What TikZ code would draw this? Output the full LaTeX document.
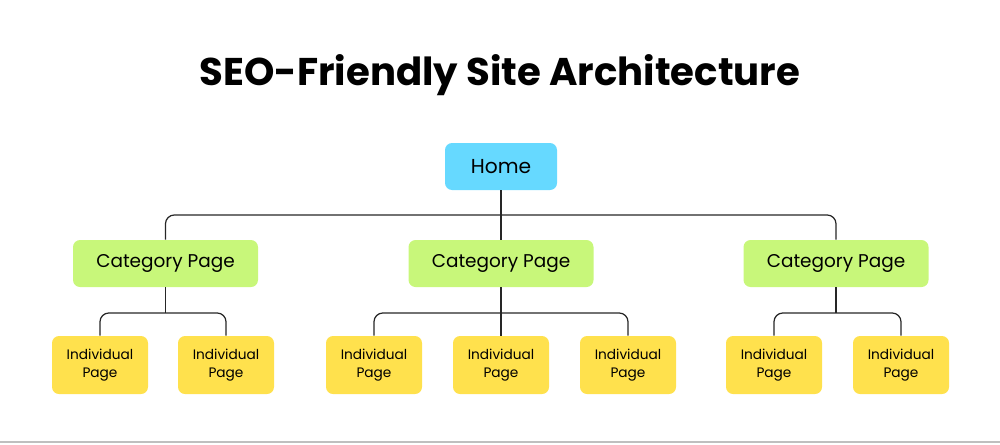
\documentclass[tikz,border=0pt]{standalone}
\usepackage{fontspec}
\setmainfont{Poppins}
\begin{document}
\begin{tikzpicture}[x=0.02cm,y=-0.02cm,
  box/.style={rounded corners=4pt,inner sep=0pt,align=center},
  home/.style={box,fill=homeblue,minimum width=112*0.02cm,minimum height=47*0.02cm,font=\fontsize{11.5}{13}\selectfont},
  cat/.style={box,fill=catgreen,minimum width=185*0.02cm,minimum height=47*0.02cm,font=\fontsize{10.5}{12}\selectfont},
  ind/.style={box,fill=indyellow,minimum width=96*0.02cm,minimum height=58*0.02cm,font=\fontsize{7.8}{10}\selectfont},
  link/.style={draw=black!85,line width=0.7pt,rounded corners=5pt}]
\definecolor{homeblue}{HTML}{66D9FF}
\definecolor{catgreen}{HTML}{C8F77A}
\definecolor{indyellow}{HTML}{FFE14D}
\useasboundingbox (0,0) rectangle (1000,444);
\draw[black!25,line width=0.6pt] (0,442) -- (1000,442);
\node[font=\fontsize{22}{26}\selectfont\bfseries] (title) at (500,75) {SEO-Friendly Site Architecture};
\node[home] (home) at (501,166.5) {Home};
\node[cat] (c1) at (165.5,263.5) {Category Page};
\node[cat] (c2) at (501,263.5) {Category Page};
\node[cat] (c3) at (836,263.5) {Category Page};
\node[ind] (i1) at (100,365) {Individual\\Page};
\node[ind] (i2) at (226,365) {Individual\\Page};
\node[ind] (i3) at (374,365) {Individual\\Page};
\node[ind] (i4) at (501,365) {Individual\\Page};
\node[ind] (i5) at (628,365) {Individual\\Page};
\node[ind] (i6) at (774,365) {Individual\\Page};
\node[ind] (i7) at (901,365) {Individual\\Page};
\coordinate (hy) at (0,215);
\coordinate (ly) at (0,313);
\draw[link] (home.south) -- (c2.north);
\draw[link] (c1.north) |- (hy -| home.south) -| (c3.north);
\draw[link] (c1.south) -- (c1.south |- ly);
\draw[link] (i1.north) |- (ly -| c1.south) -| (i2.north);
\draw[link] (c2.south) -- (i4.north);
\draw[link] (i3.north) |- (ly -| c2.south) -| (i5.north);
\draw[link] (c3.south) -- (c3.south |- ly);
\draw[link] (i6.north) |- (ly -| c3.south) -| (i7.north);
\end{tikzpicture}
\end{document}
